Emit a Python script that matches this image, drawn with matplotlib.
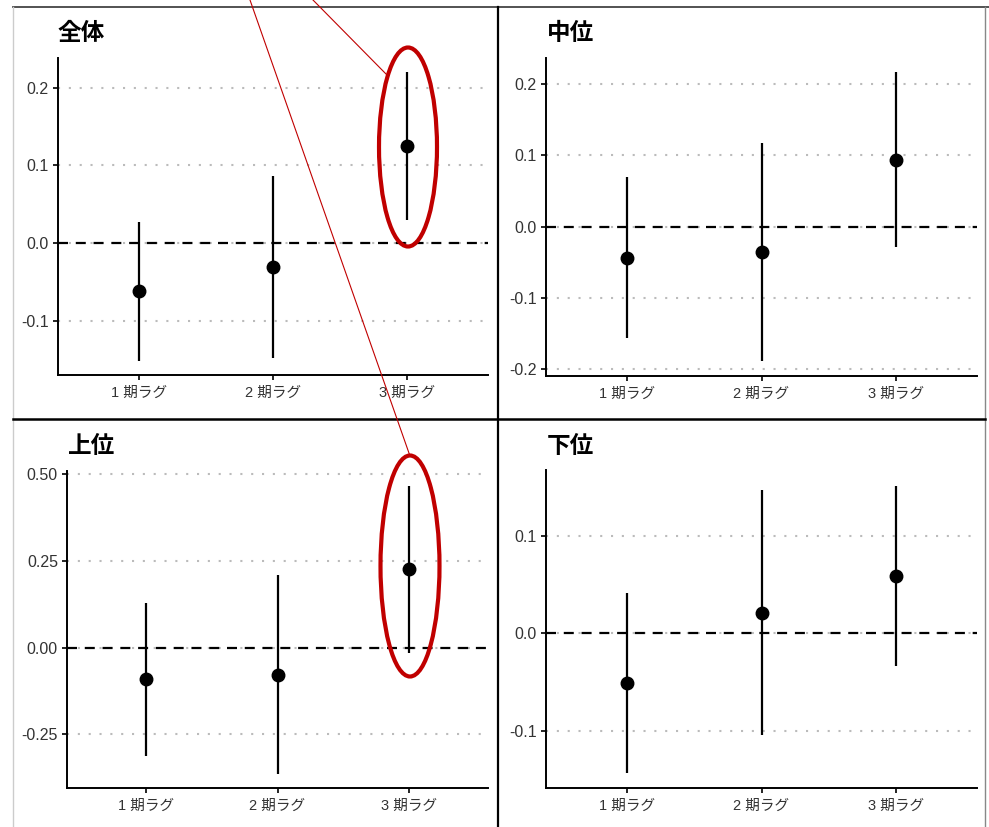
import matplotlib
matplotlib.use("Agg")
import matplotlib.pyplot as plt
from matplotlib.lines import Line2D
from matplotlib.patches import Ellipse

plt.rcParams['font.family'] = ['Liberation Sans', 'Noto Sans CJK JP', 'DejaVu Sans']

#%% data
categories = ['1 期ラグ', '2 期ラグ', '3 期ラグ']

est_all = [-0.062, -0.031, 0.125]
lo_all = [-0.152, -0.148, 0.030]
hi_all = [0.027, 0.086, 0.220]

est_mid = [-0.044, -0.036, 0.094]
lo_mid = [-0.157, -0.189, -0.029]
hi_mid = [0.070, 0.118, 0.218]

est_top = [-0.091, -0.078, 0.225]
lo_top = [-0.311, -0.363, -0.016]
hi_top = [0.128, 0.209, 0.465]

est_low = [-0.051, 0.021, 0.059]
lo_low = [-0.144, -0.105, -0.034]
hi_low = [0.042, 0.147, 0.152]

titles = ['全体', '中位', '上位', '下位']
yticks_all = [-0.1, 0.0, 0.1, 0.2]
yticks_mid = [-0.2, -0.1, 0.0, 0.1, 0.2]
yticks_top = [-0.25, 0.0, 0.25, 0.50]
yticks_low = [-0.1, 0.0, 0.1]

#%% figure
W, H = 989, 827
fig = plt.figure(figsize=(W / 100, H / 100), dpi=100)
fig.patch.set_facecolor('white')


def px_rect(left, right, top, bottom):
    return [left / W, 1 - bottom / H, (right - left) / W, (bottom - top) / H]


panels = [
    (est_all, lo_all, hi_all, yticks_all, '{:.1f}', (-0.170, 0.238), px_rect(58, 488, 58, 375), (58, 40)),
    (est_mid, lo_mid, hi_mid, yticks_mid, '{:.1f}', (-0.210, 0.237), px_rect(546, 977, 58, 376), (547, 40)),
    (est_top, lo_top, hi_top, yticks_top, '{:.2f}', (-0.404, 0.508), px_rect(67, 488, 471, 788), (68, 453)),
    (est_low, lo_low, hi_low, yticks_low, '{:.1f}', (-0.159, 0.168), px_rect(546, 977, 470, 788), (547, 453)),
]

xpos = [1, 2, 3]
for (est, lo, hi, yt, fmt, ylim, rect, tpos), title in zip(panels, titles):
    ax = fig.add_axes(rect)
    # dotted grid, dashed zero line on top of it
    for v in yt:
        ax.axhline(v, color='#bbbbbb', lw=1.5, ls=(0, (1, 4.2)), zorder=1)
    ax.axhline(0, color='black', lw=1.6, ls=(0, (4.5, 3.5)), zorder=2)
    ax.vlines(xpos, lo, hi, color='black', lw=1.6, zorder=3)
    ax.plot(xpos, est, 'o', color='black', ms=9, zorder=4)

    ax.set_xlim(0.4, 3.6)
    ax.set_ylim(*ylim)
    ax.set_xticks(xpos)
    ax.set_xticklabels(categories)
    ax.set_yticks(yt)
    ax.set_yticklabels([fmt.format(v) for v in yt])
    for s in ['top', 'right']:
        ax.spines[s].set_visible(False)
    for s in ['left', 'bottom']:
        ax.spines[s].set_linewidth(1.4)
        ax.spines[s].set_color('black')
    ax.tick_params(axis='both', length=3.5, width=1.2, color='black',
                   labelcolor='#333333', labelsize=11.5, pad=3)
    ax.tick_params(axis='x', labelsize=10.5, pad=4)
    ax.set_facecolor('none')

    fig.text(tpos[0] / W, 1 - tpos[1] / H, title, fontsize=17, fontweight='bold',
             ha='left', va='baseline', family=['Noto Sans CJK JP'])

#%% panel borders
def px_line(x0, y0, x1, y1, **kw):
    fig.add_artist(Line2D([x0 / W, x1 / W], [1 - y0 / H, 1 - y1 / H],
                          transform=fig.transFigure, **kw))


px_line(13, 7, 989, 7, color='#444444', lw=1.3)
px_line(13, 7, 13, 827, color='#cccccc', lw=1.0)
px_line(985, 7, 985, 827, color='#888888', lw=1.0)
px_line(498.5, 7, 498.5, 827, color='black', lw=1.6)
px_line(13, 419, 985, 419, color='black', lw=1.8)

#%% red highlight
red = '#c00000'
px_line(313, 0, 387, 75, color=red, lw=0.8)
px_line(250, 0, 410, 456, color=red, lw=0.8)
fig.add_artist(Ellipse((408 / W, 1 - 147 / H), 58 / W, 199 / H, transform=fig.transFigure,
                       fill=False, edgecolor=red, lw=3))
fig.add_artist(Ellipse((410 / W, 1 - 566 / H), 59 / W, 221 / H, transform=fig.transFigure,
                       fill=False, edgecolor=red, lw=3))

fig.savefig('out.png', dpi=100)
